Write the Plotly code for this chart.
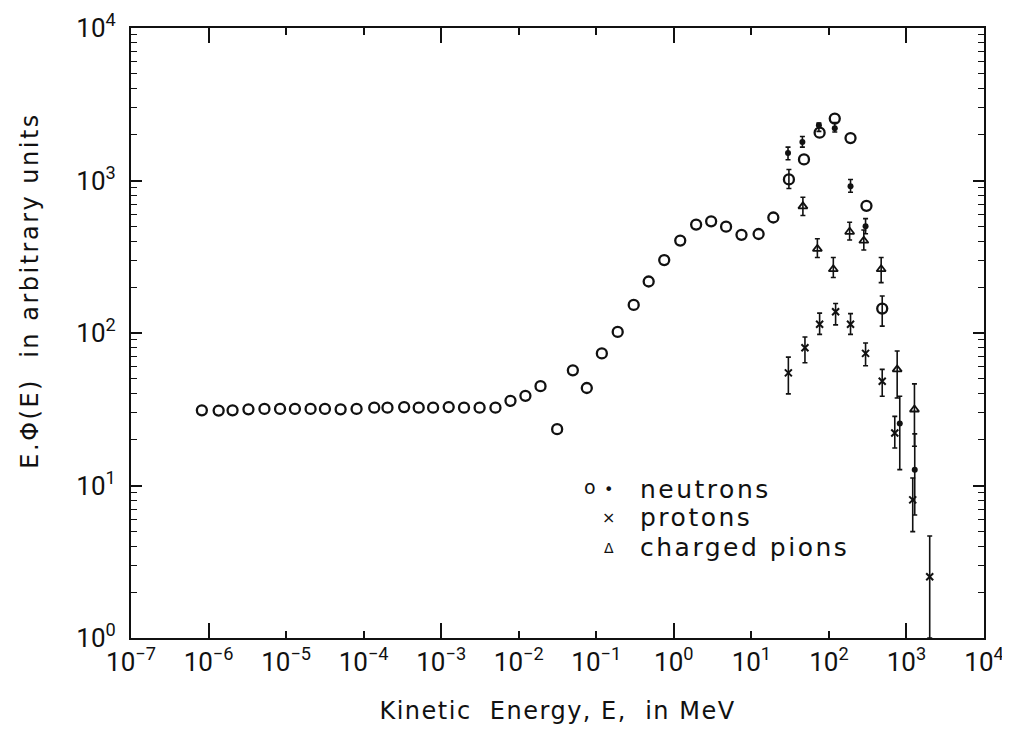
import plotly.graph_objects as go

# ---------------- data ----------------
# neutrons, open circles (no visible error bars)
n_open_E = [8.2e-7, 1.35e-6, 2.04e-6, 3.27e-6, 5.26e-6, 8.36e-6, 1.30e-5, 2.07e-5,
            3.17e-5, 5.05e-5, 8.11e-5, 1.37e-4, 2.03e-4, 3.33e-4, 5.13e-4, 7.87e-4,
            1.25e-3, 1.97e-3, 3.13e-3, 5.01e-3, 7.83e-3, 1.22e-2, 1.91e-2, 3.13e-2,
            0.0499, 0.0755, 0.118, 0.189, 0.304, 0.474, 0.752, 1.21, 1.94, 3.03,
            4.72, 7.46, 12.4, 19.2, 47.7, 75.9, 119, 190, 305]
n_open_V = [31.1, 31.0, 31.1, 31.6, 31.8, 31.8, 31.8, 31.8,
            31.8, 31.6, 31.8, 32.4, 32.4, 32.7, 32.4, 32.4,
            32.7, 32.4, 32.4, 32.4, 35.9, 38.7, 44.8, 23.4,
            56.9, 43.6, 73.5, 101.6, 152.8, 217.7, 300.8, 404, 514, 540,
            498, 440, 446, 572, 1375, 2060, 2547, 1897, 682]

# neutrons, open circles with error bars
n_open_err_E = [30.5, 487]
n_open_err_V = [1016, 144.6]
n_open_err_hi = [1180, 175]
n_open_err_lo = [886, 111]

# neutrons, filled circles
n_fill_E = [29.7, 45.5, 74.3, 119, 190, 297, 820, 1279]
n_fill_V = [1514, 1786, 2302, 2200, 918, 501, 25.5, 12.7]
n_fill_hi = [1656, 1945, 2384, 2400, 1016, 562, 38.5, 21.8]
n_fill_lo = [1368, 1656, 2100, 2080, 838, 448, 12.7, 6.4]

# protons
p_E = [30, 49.1, 75.9, 122, 190, 297, 487, 707, 1205, 1995]
p_V = [54.8, 80, 114, 138, 114, 73.5, 48.3, 22.1, 8.05, 2.52]
p_hi = [69.5, 94.2, 135, 156, 134, 86, 57.7, 28.4, 11.2, 4.67]
p_lo = [39.9, 63.8, 98, 113, 98, 61, 38.5, 17.6, 4.98, 1.0]

# charged pions
pi_E = [46.2, 71, 114, 185, 282, 472, 759, 1268]
pi_V = [677, 356, 262, 461, 403, 262, 57.7, 31.5]
pi_hi = [776, 415, 313, 532, 474, 313, 76.2, 46.4]
pi_lo = [589, 313, 231, 407, 350, 214, 37.5, 18.1]

x_exps = list(range(-7, 5))
y_exps = list(range(0, 5))
x_long_exps = [-6, -3, 0, 3]

TICK_FONT = "Roboto"
TEXT_FONT = "DejaVu Sans"
BLACK = "#111111"


def spaced(text, px):
    return '<span style="letter-spacing:%spx">%s</span>' % (px, text)


def err(v, hi, lo):
    return dict(type="data", symmetric=False,
                array=[h - a for a, h in zip(v, hi)],
                arrayminus=[a - l for a, l in zip(v, lo)],
                color=BLACK, thickness=1.6, width=2.5)


fig = go.Figure()

fig.add_trace(go.Scatter(x=n_open_E, y=n_open_V, mode="markers",
                         marker=dict(symbol="circle-open", size=10, color=BLACK,
                                     line=dict(width=2.3, color=BLACK)),
                         showlegend=False, name="neutrons"))
fig.add_trace(go.Scatter(x=n_open_err_E, y=n_open_err_V, mode="markers",
                         error_y=err(n_open_err_V, n_open_err_hi, n_open_err_lo),
                         marker=dict(symbol="circle-open", size=10, color=BLACK,
                                     line=dict(width=2.3, color=BLACK)),
                         showlegend=False, name="neutrons"))
fig.add_trace(go.Scatter(x=n_fill_E, y=n_fill_V, mode="markers",
                         error_y=err(n_fill_V, n_fill_hi, n_fill_lo),
                         marker=dict(symbol="circle", size=6, color=BLACK),
                         showlegend=False, name="neutrons"))
fig.add_trace(go.Scatter(x=p_E, y=p_V, mode="markers",
                         error_y=err(p_V, p_hi, p_lo),
                         marker=dict(symbol="x-thin-open", size=7, color=BLACK,
                                     line=dict(width=2, color=BLACK)),
                         showlegend=False, name="protons"))
fig.add_trace(go.Scatter(x=pi_E, y=pi_V, mode="markers",
                         error_y=err(pi_V, pi_hi, pi_lo),
                         marker=dict(symbol="triangle-up-open", size=8, color=BLACK,
                                     line=dict(width=1.8, color=BLACK)),
                         showlegend=False, name="charged pions"))
# invisible helper trace so the overlay axis (long decade ticks) is drawn
fig.add_trace(go.Scatter(x=[1e-7], y=[1], xaxis="x2", mode="markers",
                         marker=dict(opacity=0), hoverinfo="skip", showlegend=False))

minor_y = [m * 10 ** k for k in range(0, 4) for m in range(2, 10)]

fig.update_layout(
    width=1010, height=737,
    paper_bgcolor="white", plot_bgcolor="white",
    margin=dict(l=123, r=34, t=20, b=107),
    font=dict(family=TEXT_FONT, color=BLACK),
    xaxis=dict(type="log", range=[-7, 4], showgrid=False, zeroline=False, automargin=False,
               showline=True, linecolor=BLACK, linewidth=2, mirror="ticks",
               ticks="inside", ticklen=7, tickwidth=1.6, tickcolor=BLACK,
               tickmode="array", tickvals=[10.0 ** e for e in x_exps],
               ticktext=["10<sup>%s</sup>" % (str(e).replace("-", "\u2212")) for e in x_exps],
               tickfont=dict(size=26, family=TICK_FONT),
               title=dict(text=spaced("Kinetic  Energy, E,  in MeV", 1.5),
                          font=dict(size=24, family=TEXT_FONT), standoff=26)),
    xaxis2=dict(type="log", range=[-7, 4], overlaying="x", side="bottom", automargin=False,
                showgrid=False, zeroline=False, showline=False, mirror="ticks",
                ticks="inside", ticklen=15, tickwidth=1.6, tickcolor=BLACK,
                tickmode="array", tickvals=[10.0 ** e for e in x_long_exps],
                showticklabels=False),
    yaxis=dict(type="log", range=[0, 4], showgrid=False, zeroline=False, automargin=False,
               showline=True, linecolor=BLACK, linewidth=2, mirror="ticks",
               ticks="inside", ticklen=11, tickwidth=1.6, tickcolor=BLACK,
               tickmode="array", tickvals=[10.0 ** e for e in y_exps],
               ticktext=["10<sup>%d</sup>" % e for e in y_exps],
               tickfont=dict(size=26, family=TICK_FONT), ticklabelstandoff=8,
               minor=dict(ticks="inside", ticklen=6, tickwidth=1.4, tickcolor=BLACK,
                          tickmode="array", tickvals=minor_y, showgrid=False)),
)

# y-axis title (positioned like the reference)
fig.add_annotation(xref="paper", yref="paper", x=-0.118, y=0.57, textangle=-90,
                   text=spaced("E.\u03A6(E)  in arbitrary units", 2.5), showarrow=False,
                   font=dict(size=24, family=TEXT_FONT), xanchor="center", yanchor="middle")

# legend block: (symbol, symbol x, row y, font size)
leg_syms = [("o", 0.538, 0.247, 19), ("\u2022", 0.560, 0.244, 16),
            ("\u00D7", 0.560, 0.197, 16), ("\u0394", 0.560, 0.148, 14)]
leg_labels = [("neutrons", 0.244), ("protons", 0.197), ("charged pions", 0.148)]
for sym, xx, yy, fs in leg_syms:
    fig.add_annotation(xref="paper", yref="paper", x=xx, y=yy, text=sym,
                       showarrow=False, xanchor="center", yanchor="middle",
                       font=dict(size=fs, family=TEXT_FONT))
for lab, yy in leg_labels:
    fig.add_annotation(xref="paper", yref="paper", x=0.594, y=yy, text=spaced(lab, 2.5),
                       showarrow=False, xanchor="left", yanchor="middle",
                       font=dict(size=25, family=TEXT_FONT))

fig.write_html("out.html")
